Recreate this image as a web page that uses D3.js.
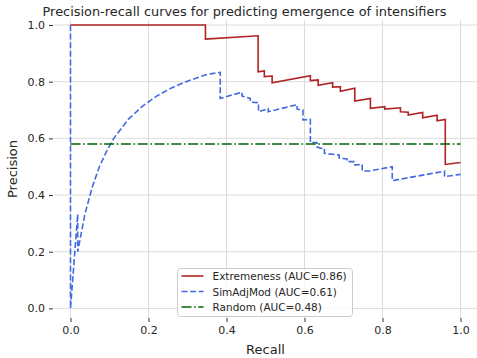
<!DOCTYPE html>
<html>
<head>
<meta charset="utf-8">
<script src="https://cdn.jsdelivr.net/npm/d3@7"></script>
<style>
    body { margin: 0; background: #ffffff; }
    #chart { width: 477px; height: 358px; }
    text { font-family: "DejaVu Sans", sans-serif; fill: #262626; }
</style>
</head>
<body>
<div id="chart"></div>
<script>
// Extremeness curve (recall, precision)
const extRecall = [0, 0.346, 0.346, 0.481, 0.481, 0.497, 0.497, 0.517, 0.517, 0.615, 0.615, 0.635, 0.635,
    0.672, 0.672, 0.692, 0.692, 0.729, 0.729, 0.769, 0.769, 0.806, 0.806, 0.846, 0.846, 0.866, 0.866,
    0.903, 0.903, 0.940, 0.940, 0.961, 0.961, 1.0];
const extPrecision = [1.0, 1.0, 0.950, 0.962, 0.835, 0.838, 0.818, 0.820, 0.796, 0.821, 0.804, 0.806, 0.787,
    0.796, 0.781, 0.782, 0.766, 0.777, 0.732, 0.741, 0.706, 0.712, 0.703, 0.708, 0.694, 0.692, 0.682,
    0.691, 0.673, 0.682, 0.662, 0.667, 0.508, 0.515];

// SimAdjMod curve
const simRecall = [0, 0, 0.0185, 0.0185, 0.037, 0.056, 0.074, 0.093, 0.111, 0.148, 0.185, 0.222, 0.259,
    0.296, 0.333, 0.352, 0.384, 0.384, 0.440, 0.440, 0.461, 0.461, 0.482, 0.482, 0.507, 0.507, 0.581,
    0.581, 0.596, 0.596, 0.615, 0.615, 0.632, 0.632, 0.641, 0.651, 0.651, 0.689, 0.689, 0.709, 0.709,
    0.729, 0.729, 0.748, 0.748, 0.767, 0.825, 0.825, 0.959, 0.959, 1.0];
const simPrecision = [1.0, 0, 0.333, 0.2, 0.333, 0.429, 0.5, 0.556, 0.6, 0.667, 0.714, 0.75, 0.778,
    0.8, 0.818, 0.826, 0.833, 0.741, 0.763, 0.749, 0.741, 0.728, 0.726, 0.694, 0.705, 0.694, 0.719,
    0.703, 0.700, 0.665, 0.667, 0.585, 0.585, 0.570, 0.565, 0.565, 0.547, 0.541, 0.530, 0.527, 0.518,
    0.518, 0.506, 0.508, 0.485, 0.485, 0.500, 0.451, 0.484, 0.465, 0.473];

// Random baseline
const randRecall = [0, 1];
const randPrecision = [0.58, 0.58];

const xTicks = [0.0, 0.2, 0.4, 0.6, 0.8, 1.0];
const yTicks = [0.0, 0.2, 0.4, 0.6, 0.8, 1.0];

const seriesNames = ['Extremeness (AUC=0.86)', 'SimAdjMod (AUC=0.61)', 'Random (AUC=0.48)'];
const seriesColors = ['#b22222', '#4169e1', '#006400'];
const seriesDash = ['none', '6,2.6', '10,2.6,1.6,2.6'];

class PRChart {
    constructor(parentElement) {
        this.parentElement = parentElement;
        this.series = [
            {recall: extRecall, precision: extPrecision},
            {recall: simRecall, precision: simPrecision},
            {recall: randRecall, precision: randPrecision}
        ];
        this.initVis();
    }

    initVis() {
        let vis = this;

        vis.width = 477;
        vis.height = 358;
        // axes box (spines hidden)
        vis.box = {left: 54, right: 477, top: 20, bottom: 318};

        vis.svg = d3.select("#" + vis.parentElement).append("svg")
            .attr("width", vis.width)
            .attr("height", vis.height);

        vis.x = d3.scaleLinear().domain([0, 1]).range([70.5, 460.5]);
        vis.y = d3.scaleLinear().domain([0, 1]).range([308.4, 25]);

        // Grid
        vis.svg.append("g").selectAll("line.vgrid")
            .data(xTicks).enter().append("line")
            .attr("x1", d => vis.x(d)).attr("x2", d => vis.x(d))
            .attr("y1", vis.box.top).attr("y2", vis.box.bottom)
            .attr("stroke", "#dcdcdc").attr("stroke-width", 1);

        vis.svg.append("g").selectAll("line.hgrid")
            .data(yTicks).enter().append("line")
            .attr("y1", d => vis.y(d)).attr("y2", d => vis.y(d))
            .attr("x1", vis.box.left).attr("x2", vis.box.right)
            .attr("stroke", "#dcdcdc").attr("stroke-width", 1);

        // Axes
        let xAxis = d3.axisBottom(vis.x).tickValues(xTicks).tickFormat(d3.format(".1f"))
            .tickSizeOuter(0).tickSizeInner(4).tickPadding(4);
        let yAxis = d3.axisLeft(vis.y).tickValues(yTicks).tickFormat(d3.format(".1f"))
            .tickSizeOuter(0).tickSizeInner(4).tickPadding(4);

        let gx = vis.svg.append("g")
            .attr("transform", `translate(0, ${vis.box.bottom})`)
            .call(xAxis);
        let gy = vis.svg.append("g")
            .attr("transform", `translate(${vis.box.left - 1}, 0)`)
            .call(yAxis);

        [gx, gy].forEach(g => {
            g.select(".domain").remove();
            g.selectAll(".tick line").attr("stroke", "#333333");
            g.selectAll("text").style("font-size", "11px").style("font-family", "DejaVu Sans").attr("fill", "#262626");
        });

        // Axis labels
        vis.svg.append("text")
            .attr("x", (vis.box.left + vis.box.right) / 2)
            .attr("y", 354)
            .attr("text-anchor", "middle")
            .style("font-size", "13px")
            .text("Recall");

        vis.svg.append("text")
            .attr("transform", `translate(17, ${(vis.box.top + vis.box.bottom) / 2}) rotate(-90)`)
            .attr("text-anchor", "middle")
            .style("font-size", "13px")
            .text("Precision");

        // Title
        vis.svg.append("text")
            .attr("x", 244.5)
            .attr("y", 16)
            .attr("text-anchor", "middle")
            .style("font-size", "12.9px")
            .text("Precision-recall curves for predicting emergence of intensifiers");

        // Curves
        let line = d3.line()
            .x(d => vis.x(d[0]))
            .y(d => vis.y(d[1]));

        vis.series.forEach((s, i) => {
            let pts = s.recall.map((r, j) => [r, s.precision[j]]);
            vis.svg.append("path")
                .datum(pts)
                .attr("d", line)
                .attr("fill", "none")
                .attr("stroke", seriesColors[i])
                .attr("stroke-width", 1.6)
                .attr("stroke-dasharray", seriesDash[i]);
        });

        // Legend
        let lg = vis.svg.append("g").attr("transform", "translate(177.5, 268.5)");
        lg.append("rect")
            .attr("width", 175).attr("height", 48)
            .attr("rx", 3)
            .attr("fill", "#ffffff").attr("fill-opacity", 0.8)
            .attr("stroke", "#cccccc").attr("stroke-width", 1);

        seriesNames.forEach((name, i) => {
            let yy = 7.5 + i * 15.5;
            lg.append("line")
                .attr("x1", 4).attr("x2", 26)
                .attr("y1", yy).attr("y2", yy)
                .attr("stroke", seriesColors[i])
                .attr("stroke-width", 1.6)
                .attr("stroke-dasharray", seriesDash[i]);
            lg.append("text")
                .attr("x", 35)
                .attr("y", yy + 4)
                .style("font-size", "10.5px")
                .text(name);
        });
    }
}

new PRChart("chart");
</script>
</body>
</html>
